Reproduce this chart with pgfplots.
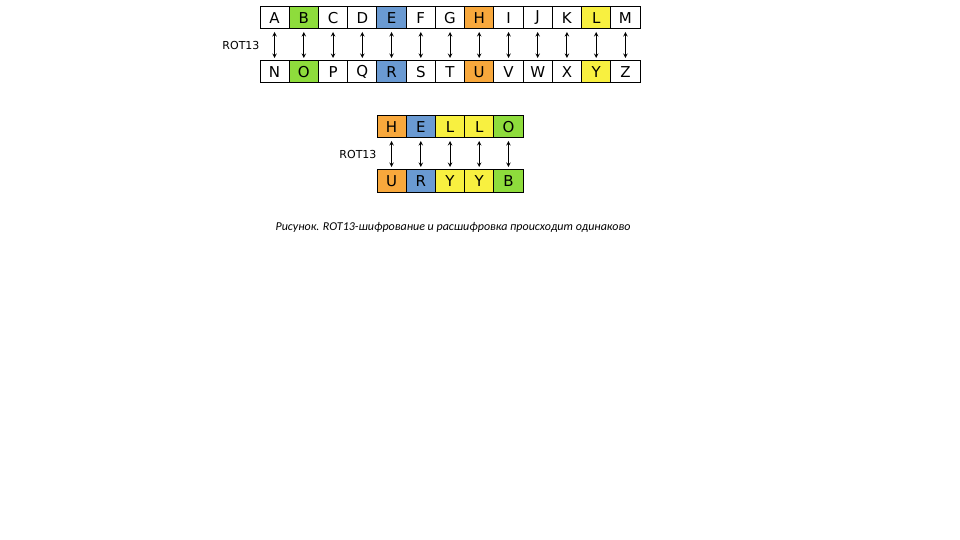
\documentclass[border=0pt]{standalone}
\usepackage{pgfplots}
\pgfplotsset{compat=1.18}
\usepackage{fontspec}
\setmainfont{DejaVu Sans}
\newfontfamily\capfont{Carlito}
\definecolor{cg}{HTML}{8EDC3C}
\definecolor{cb}{HTML}{6A9AD2}
\definecolor{co}{HTML}{F8A83C}
\definecolor{cy}{HTML}{F8F040}
\pgfdeclareplotmark{cell}{\pgfpathrectangle{\pgfpoint{-14.6pt}{-11pt}}{\pgfpoint{29.2pt}{22pt}}\pgfusepathqfillstroke}
\begin{document}
\begin{tikzpicture}
\begin{axis}[width=960pt,height=540pt,scale only axis,xmin=0,xmax=960,ymin=0,ymax=540,y dir=reverse,hide axis,clip=false]
\pgfplotsset{cellstyle/.style={only marks,mark=cell,mark options={fill=#1,draw=black,line width=1pt},
 point meta=explicit symbolic,nodes near coords,
 every node near coord/.append style={anchor=center,font=\fontsize{15}{15}\selectfont,text=black,inner sep=0pt}}}
\path (axis cs:0,0) rectangle (axis cs:960,540);
\addplot[cellstyle=white] coordinates {
(274.6,18)[A](333.1,18)[C](362.3,18)[D](420.8,18)[F](450,18)[G](508.5,18)[I](537.7,18)[J](566.9,18)[K](625.4,18)[M]
(274.6,72)[N](333.1,72)[P](362.3,72)[Q](420.8,72)[S](450,72)[T](508.5,72)[V](537.7,72)[W](566.9,72)[X](625.4,72)[Z]};
\addplot[cellstyle=cg] coordinates {(303.8,18)[B](303.8,72)[O](508.4,127)[O](508.4,181)[B]};
\addplot[cellstyle=cb] coordinates {(391.5,18)[E](391.5,72)[R](420.8,127)[E](420.8,181)[R]};
\addplot[cellstyle=co] coordinates {(479.2,18)[H](479.2,72)[U](391.6,127)[H](391.6,181)[U]};
\addplot[cellstyle=cy] coordinates {(596.2,18)[L](596.2,72)[Y](450,127)[L](479.2,127)[L](450,181)[Y](479.2,181)[Y]};
\pgfplotsinvokeforeach{274.6,303.8,333.1,362.3,391.5,420.8,450,479.2,508.5,537.7,566.9,596.2,625.4}{
 \addplot[<->,>=stealth,line width=1pt,mark=none] coordinates {(#1,32)(#1,58)};}
\pgfplotsinvokeforeach{391.6,420.8,450,479.2,508.4}{
 \addplot[<->,>=stealth,line width=1pt,mark=none] coordinates {(#1,141)(#1,167)};}
\node[font=\fontsize{11}{11}\selectfont,anchor=east] at (axis cs:263,45) {ROT13};
\node[font=\fontsize{11}{11}\selectfont,anchor=east] at (axis cs:380,154) {ROT13};
\node[font=\capfont\itshape\fontsize{12}{12}\selectfont] at (axis cs:453,227) {Рисунок. ROT13-шифрование и расшифровка происходит одинаково};
\end{axis}
\end{tikzpicture}
\end{document}
